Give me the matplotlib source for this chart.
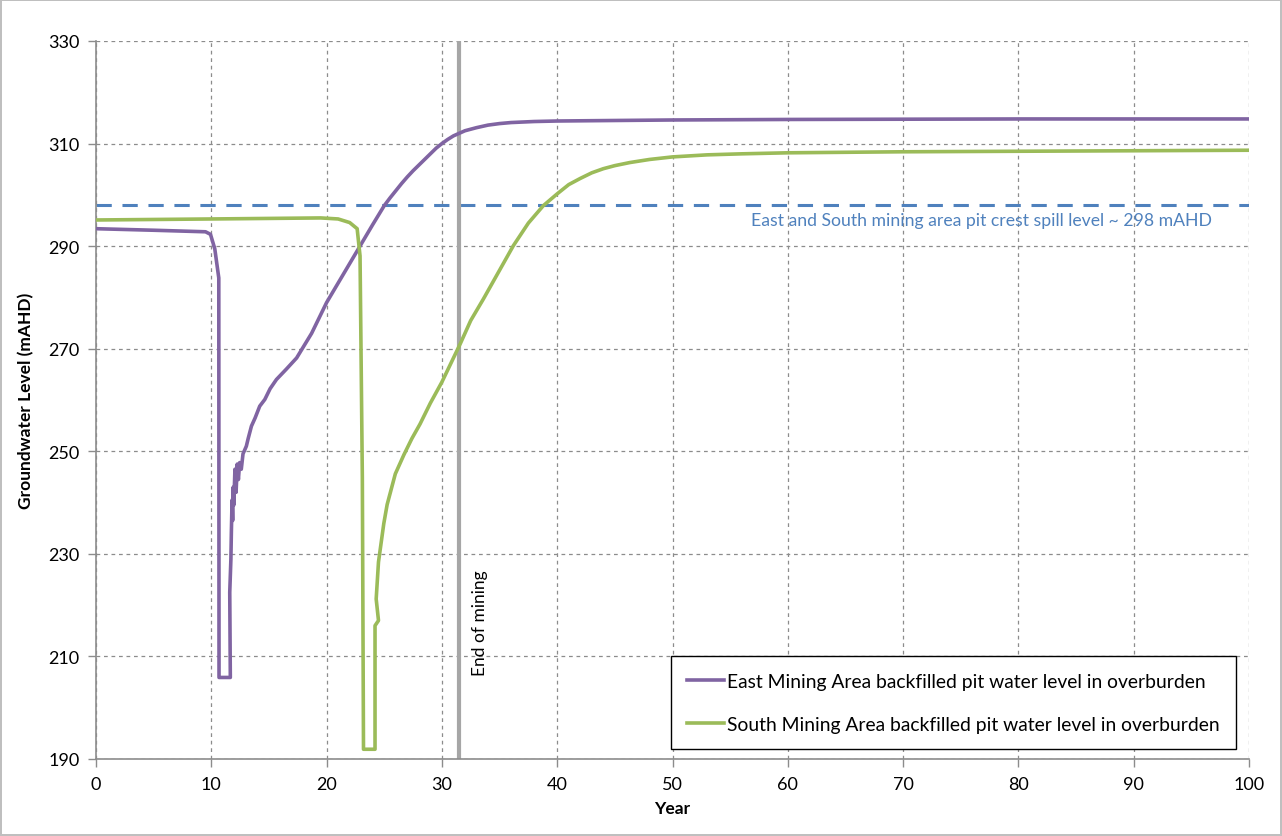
import matplotlib
matplotlib.use('Agg')
import matplotlib.pyplot as plt

plt.rcParams['font.family'] = ['Lato', 'DejaVu Sans']

# East Mining Area backfilled pit water level (year, mAHD)
east_year = [0, 5, 9.5, 9.93, 10.3, 10.65, 10.67, 11.65, 11.6, 11.7, 11.74, 11.8, 11.85,
             11.9, 11.95, 12.05, 12.15, 12.25, 12.35, 12.46, 12.6, 12.75, 13.04, 13.2,
             13.48, 13.8, 14.2, 14.64, 15.1, 15.65, 16.5, 17.4, 18.7, 20.0, 21.0, 22.0,
             23.0, 24.0, 25.0, 25.5, 26.0, 26.5, 27.0, 27.5, 28.0, 28.5, 29.0, 29.5, 30.0,
             30.5, 31.0, 31.5, 32.0, 33.0, 34.0, 35.0, 36.0, 38.0, 40.0, 45.0, 50.0, 60.0,
             80.0, 100.0]
east_level = [293.4, 293.1, 292.8, 292.3, 289.5, 283.8, 205.9, 205.9, 222.5, 229.0, 234.2,
              240.5, 236.5, 243.0, 239.5, 246.5, 242.0, 247.5, 244.5, 247.8, 246.5, 249.5,
              251.0, 252.5, 254.9, 256.5, 258.8, 260.1, 262.2, 264.0, 266.0, 268.2, 273.0,
              279.0, 282.8, 286.6, 290.4, 294.2, 297.9, 299.4, 300.8, 302.2, 303.5, 304.7,
              305.8, 306.9, 308.0, 309.1, 310.0, 310.8, 311.5, 312.0, 312.5, 313.1, 313.6,
              313.9, 314.1, 314.3, 314.4, 314.5, 314.6, 314.7, 314.8, 314.8]

# South Mining Area backfilled pit water level (year, mAHD)
south_year = [0, 10, 19.5, 21.0, 22.0, 22.65, 22.9, 23.1, 23.2, 24.2, 24.2, 24.5, 24.3,
              24.5, 24.96, 25.25, 25.96, 26.7, 27.4, 28.1, 29.0, 30.0, 31.6, 32.5, 33.6,
              35.0, 36.2, 37.5, 38.8, 40.0, 41.0, 42.0, 43.0, 44.0, 45.0, 46.3, 48.0,
              50.0, 53.0, 56.0, 60.0, 70.0, 80.0, 100.0]
south_level = [295.1, 295.3, 295.5, 295.3, 294.6, 293.4, 288.1, 244.9, 191.9, 191.9, 216.0,
               217.0, 221.2, 228.4, 235.9, 239.6, 245.6, 249.3, 252.5, 255.3, 259.4, 263.5,
               271.0, 275.5, 279.7, 285.3, 290.1, 294.5, 297.9, 300.2, 302.0, 303.2, 304.3,
               305.1, 305.7, 306.3, 306.9, 307.4, 307.8, 308.0, 308.2, 308.4, 308.5, 308.7]

spill_level = 298
end_of_mining = 31.5
x_ticks = list(range(0, 101, 10))
y_ticks = list(range(190, 331, 20))

fig = plt.figure(figsize=(12.82, 8.37), dpi=100)
fig.patch.set_edgecolor('#BFBFBF')
fig.patch.set_linewidth(1.5)
ax = fig.add_axes([96 / 1282, 1 - 760 / 837, (1249 - 96) / 1282, (760 - 42) / 837])

ax.grid(True, color='#8C8C8C', linestyle=(0, (3, 3)), linewidth=0.9)
ax.set_axisbelow(True)

ax.axhline(spill_level, color='#4F81BD', linestyle=(0, (5, 3.5)), linewidth=2.2, zorder=2)
ax.axvline(end_of_mining, color='#A6A6A6', linewidth=3, zorder=2)

ax.plot(east_year, east_level, color='#8064A2', linewidth=2.6, zorder=3, solid_joinstyle='round',
        label='East Mining Area backfilled pit water level in overburden')
ax.plot(south_year, south_level, color='#9BBB59', linewidth=2.6, zorder=3, solid_joinstyle='round',
        label='South Mining Area backfilled pit water level in overburden')

ax.text(76.8, 295.1, 'East and South mining area pit crest spill level ~ 298 mAHD',
        color='#4F81BD', fontsize=12.7, ha='center', va='center')
ax.text(33.3, 216.7, 'End of mining', rotation=90, fontsize=12.5, ha='center', va='center')

ax.set_xlim(0, 100)
ax.set_ylim(190, 330)
ax.set_xticks(x_ticks)
ax.set_yticks(y_ticks)
ax.tick_params(labelsize=13, color='#8C8C8C', length=6, width=1, pad=6)

for side in ['top', 'right']:
    ax.spines[side].set_visible(False)
for side in ['left', 'bottom']:
    ax.spines[side].set_color('#8C8C8C')
    ax.spines[side].set_linewidth(1.2)

ax.set_xlabel('Year', fontsize=12.5, fontweight='bold', labelpad=6)
ax.set_ylabel('Groundwater Level (mAHD)', fontsize=12.5, fontweight='bold', labelpad=10)

leg = ax.legend(loc='lower right', bbox_to_anchor=(0.9887, 0.0139), borderaxespad=0,
                fontsize=13.9, frameon=True, fancybox=False, edgecolor='black', framealpha=1,
                handlelength=1.9, handletextpad=0.15, labelspacing=1.35, borderpad=0.85)
leg.get_frame().set_linewidth(1)

fig.savefig('out.png', dpi=100)
